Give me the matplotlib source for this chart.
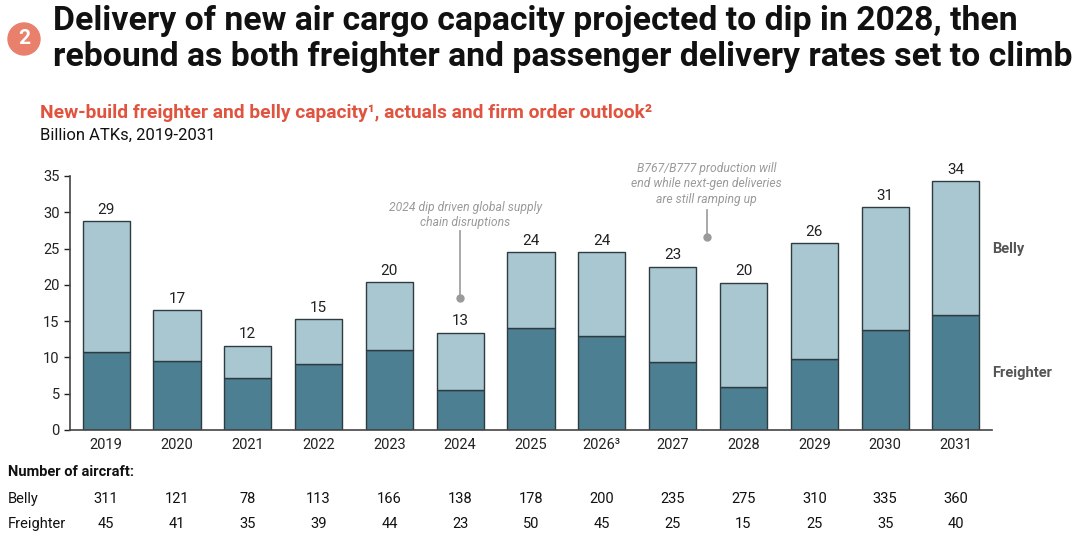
import matplotlib
matplotlib.use('Agg')
import matplotlib.pyplot as plt
from matplotlib.patches import Circle

plt.rcParams['font.family'] = ['Roboto', 'DejaVu Sans']

years = ['2019', '2020', '2021', '2022', '2023', '2024', '2025', '2026³',
         '2027', '2028', '2029', '2030', '2031']
freighter = [10.7, 9.5, 7.2, 9.1, 11.0, 5.5, 14.1, 12.9, 9.4, 5.9, 9.8, 13.8, 15.8]
total = [28.8, 16.5, 11.6, 15.3, 20.4, 13.4, 24.5, 24.5, 22.5, 20.3, 25.7, 30.7, 34.3]
total_labels = ['29', '17', '12', '15', '20', '13', '24', '24', '23', '20', '26', '31', '34']
belly = [t - f for t, f in zip(total, freighter)]
belly_aircraft = [311, 121, 78, 113, 166, 138, 178, 200, 235, 275, 310, 335, 360]
freighter_aircraft = [45, 41, 35, 39, 44, 23, 50, 45, 25, 15, 25, 35, 40]

dark = '#4b7f91'
light = '#a9c7d1'
edge = '#2e3b40'
grey = '#9a9a9a'

fig = plt.figure(figsize=(10.79, 5.44), dpi=100)
ax = fig.add_axes([0.0649, 0.2096, 0.8545, 0.4669])

x = list(range(len(years)))
ax.bar(x, freighter, width=0.665, color=dark, edgecolor=edge, linewidth=1)
ax.bar(x, belly, bottom=freighter, width=0.665, color=light, edgecolor=edge, linewidth=1)

for i, t in enumerate(total):
    ax.text(i, t + 0.6, total_labels[i], ha='center', va='bottom', fontsize=11, color='#222222')

ax.set_xlim(-0.51, 12.51)
ax.set_ylim(0, 35)
ax.set_yticks(range(0, 36, 5))
ax.set_xticks(x)
ax.set_xticklabels(years)
ax.tick_params(axis='both', labelsize=10.5, colors='#222222', length=4, width=1)
ax.tick_params(axis='x', length=0, pad=6)
for s in ['top', 'right']:
    ax.spines[s].set_visible(False)
for s in ['left', 'bottom']:
    ax.spines[s].set_color('#444444')
    ax.spines[s].set_linewidth(1.2)

# series labels
ax.text(12.51, 25.0, 'Belly', fontsize=10.5, fontweight='bold', color='#555555', va='center')
ax.text(12.51, 7.8, 'Freighter', fontsize=10.5, fontweight='bold', color='#555555', va='center')

# annotations
ax.plot([5, 5], [27.4, 18.2], color=grey, lw=1.2)
ax.plot(5, 18.2, 'o', color=grey, ms=5)
ax.text(5.07, 29.6, '2024 dip driven global supply\nchain disruptions', ha='center', va='center',
        fontsize=8.7, style='italic', color=grey, linespacing=1.25)
ax.plot([8.48, 8.48], [30.3, 26.6], color=grey, lw=1.2)
ax.plot(8.48, 26.6, 'o', color=grey, ms=5)
ax.text(8.48, 33.9, 'B767/B777 production will\nend while next-gen deliveries\nare still ramping up',
        ha='center', va='center', fontsize=8.7, style='italic', color=grey, linespacing=1.25)

# aircraft table
fig.text(8 / 1079, 1 - 472 / 544, 'Number of aircraft:', fontsize=10.5, fontweight='bold',
         color='#111111', va='center')
fig.text(8 / 1079, 1 - 499 / 544, 'Belly', fontsize=10.5, color='#111111', va='center')
fig.text(8 / 1079, 1 - 524 / 544, 'Freighter', fontsize=10.5, color='#111111', va='center')
for i in x:
    ax.annotate(str(belly_aircraft[i]), xy=(i, 0), xycoords=('data', 'figure fraction'),
                xytext=(i, 1 - 499 / 544), textcoords=('data', 'figure fraction'),
                ha='center', va='center', fontsize=10.5, color='#111111')
    ax.annotate(str(freighter_aircraft[i]), xy=(i, 0), xycoords=('data', 'figure fraction'),
                xytext=(i, 1 - 524 / 544), textcoords=('data', 'figure fraction'),
                ha='center', va='center', fontsize=10.5, color='#111111')

# titles
badge = Circle((24 / 100, (544 - 39) / 100), 16 / 100, transform=fig.dpi_scale_trans,
               color='#e8806c', zorder=3)
fig.patches.append(badge)
fig.text(24 / 1079, 1 - 39 / 544, '2', ha='center', va='center', fontsize=15,
         fontweight='bold', color='white', zorder=4)
fig.text(53 / 1079, 1 - 21 / 544, 'Delivery of new air cargo capacity projected to dip in 2028, then',
         fontsize=24.3, fontweight='bold', color='#111111', va='center')
fig.text(53 / 1079, 1 - 57 / 544, 'rebound as both freighter and passenger delivery rates set to climb',
         fontsize=24.3, fontweight='bold', color='#111111', va='center')
fig.text(40 / 1079, 1 - 113 / 544,
         'New-build freighter and belly capacity¹, actuals and firm order outlook²',
         fontsize=13.9, fontweight='bold', color='#e0533f', va='center')
fig.text(40 / 1079, 1 - 135 / 544, 'Billion ATKs, 2019-2031', fontsize=12, color='#111111',
         va='center')

fig.savefig('out.png', dpi=100)
